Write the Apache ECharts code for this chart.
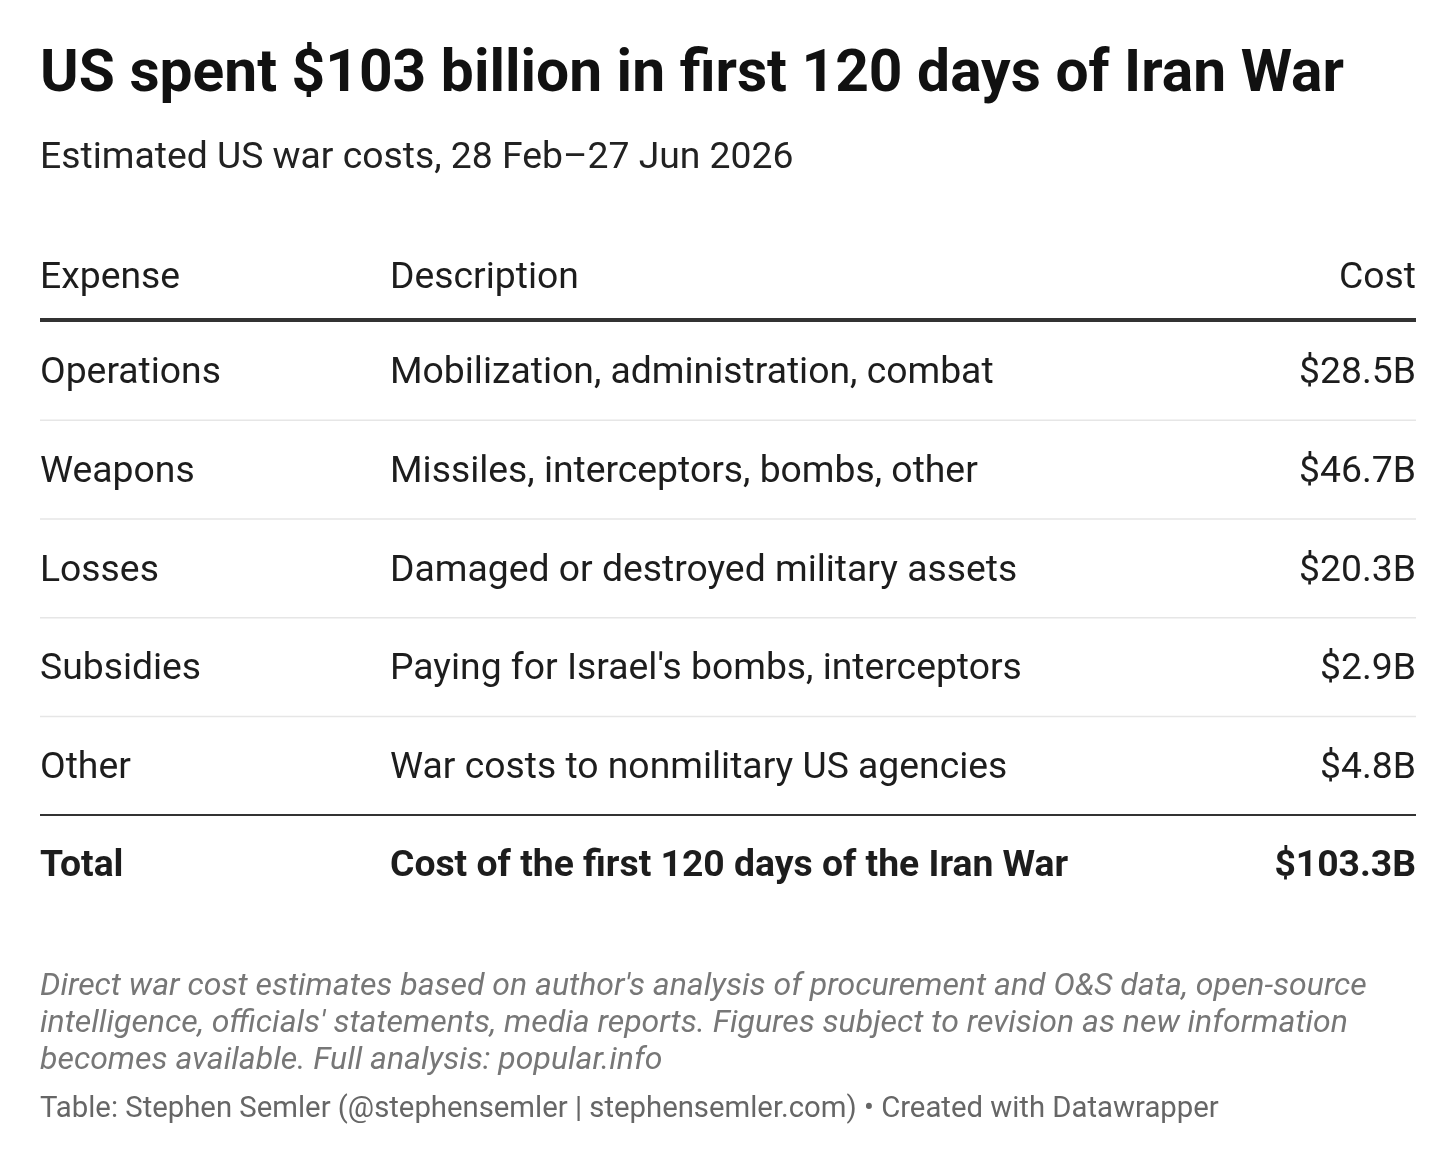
<!DOCTYPE html>
<html><head><meta charset="utf-8">
<script src="https://cdn.jsdelivr.net/npm/echarts@6/dist/echarts.min.js"></script>
<style>html,body{margin:0;padding:0;background:#fff}#c{width:1456px;height:1165px}</style>
</head><body><div id="c"></div>
<script>
const title = "US spent $103 billion in first 120 days of Iran War";
const subtitle = "Estimated US war costs, 28 Feb\u201327 Jun 2026";
const headers = ["Expense", "Description", "Cost"];
const expenses = ["Operations", "Weapons", "Losses", "Subsidies", "Other"];
const descriptions = ["Mobilization, administration, combat", "Missiles, interceptors, bombs, other", "Damaged or destroyed military assets", "Paying for Israel's bombs, interceptors", "War costs to nonmilitary US agencies"];
const costs = [28.5, 46.7, 20.3, 2.9, 4.8];
const totalRow = ["Total", "Cost of the first 120 days of the Iran War", 103.3];
const notes = ["Direct war cost estimates based on author's analysis of procurement and O&S data, open-source", "intelligence, officials' statements, media reports. Figures subject to revision as new information", "becomes available. Full analysis: popular.info"];
const source = "Table: Stephen Semler (@stephensemler | stephensemler.com) \u2022 Created with Datawrapper";

const F = "Roboto, 'Noto Sans', sans-serif";
const L = 40, C2 = 390, R = 1416;
const fmt = v => "$" + v.toFixed(1) + "B";
const els = [];
function txt(x, y, s, size, opt) {
  opt = opt || {};
  els.push({type:'text', x:x, y:y + 3, style:{text:s, fill:opt.fill||'#1d1d1d', font:(opt.italic?'italic ':'')+(opt.bold?'bold ':'')+size+'px '+F, textAlign:opt.align||'left', textVerticalAlign:'middle'}});
}
function line(y, w, c) {
  els.push({type:'line', shape:{x1:L, y1:y, x2:R, y2:y}, style:{stroke:c, lineWidth:w}});
}
const B = 37.3;
txt(L, 73, title, 58.7, {bold:true, fill:'#111'});
txt(L, 156, subtitle, B, {fill:'#222'});
txt(L, 276, headers[0], B); txt(C2, 276, headers[1], B); txt(R, 276, headers[2], B, {align:'right'});
line(320, 4, '#333');
const y0 = 371, step = 98.7;
expenses.forEach((e, i) => {
  const y = y0 + i * step;
  txt(L, y, e, B); txt(C2, y, descriptions[i], B); txt(R, y, fmt(costs[i]), B, {align:'right'});
  if (i < expenses.length - 1) line(y + step / 2, 1.5, '#e6e6e6');
});
line(815, 2, '#333');
txt(L, 864, totalRow[0], B, {bold:true}); txt(C2, 864, totalRow[1], B, {bold:true}); txt(R, 864, fmt(totalRow[2]), B, {bold:true, align:'right'});
notes.forEach((n, i) => txt(L, 984 + i * 37, n, 32, {italic:true, fill:'#777'}));
txt(L, 1107, source, 29.3, {fill:'#666'});
const chart = echarts.init(document.getElementById('c'));
chart.setOption({backgroundColor:'#fff', graphic:{elements:els}});
</script></body></html>
